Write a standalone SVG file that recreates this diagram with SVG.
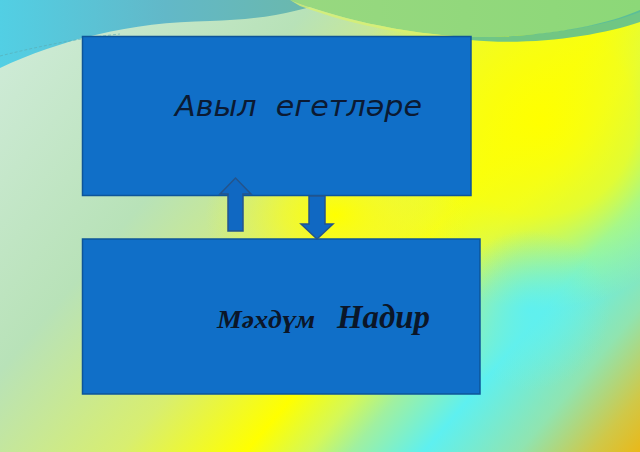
<svg xmlns="http://www.w3.org/2000/svg" width="640" height="452" viewBox="0 0 640 452">
<style>
.box{fill:#106fc8;stroke:#0d5599;stroke-width:1.5}
.arrow{fill:#1068c2;stroke:#24548c;stroke-width:1.5}
.t1{font-family:"DejaVu Sans",sans-serif;font-style:italic;font-size:27.5px;fill:#0b1a33;white-space:pre}
.t2{font-family:"Liberation Serif",serif;font-style:italic;font-weight:bold;fill:#0b1628;white-space:pre}
</style>
<defs>
<linearGradient id="bg" gradientUnits="userSpaceOnUse" x1="0" y1="0" x2="610" y2="517">
<stop offset="0" stop-color="#d2ecdc"/>
<stop offset="0.3" stop-color="#b8e2b8"/>
<stop offset="0.48" stop-color="#d8ee70"/>
<stop offset="0.6" stop-color="#ffff00"/>
<stop offset="0.66" stop-color="#d4f858"/>
<stop offset="0.7" stop-color="#a0f0a0"/>
<stop offset="0.77" stop-color="#5ef0f0"/>
<stop offset="0.86" stop-color="#90e4b0"/>
<stop offset="0.93" stop-color="#d0c848"/>
<stop offset="1" stop-color="#f7b000"/>
</linearGradient>
<radialGradient id="yel" gradientUnits="userSpaceOnUse" cx="540" cy="120" r="190">
<stop offset="0" stop-color="#ffff00" stop-opacity="1"/>
<stop offset="0.5" stop-color="#f8ff10" stop-opacity="0.8"/>
<stop offset="1" stop-color="#e0ff40" stop-opacity="0"/>
</radialGradient>
<radialGradient id="yel2" gradientUnits="userSpaceOnUse" cx="335" cy="215" r="130" gradientTransform="translate(335,215) scale(1,0.7) translate(-335,-215)">
<stop offset="0" stop-color="#ffff00" stop-opacity="1"/>
<stop offset="0.4" stop-color="#f8fc20" stop-opacity="0.7"/>
<stop offset="1" stop-color="#e8f850" stop-opacity="0"/>
</radialGradient>
<radialGradient id="cy" gradientUnits="userSpaceOnUse" cx="530" cy="310" r="80">
<stop offset="0" stop-color="#5ef0f0" stop-opacity="0.9"/>
<stop offset="1" stop-color="#6ef0e0" stop-opacity="0"/>
</radialGradient>
<linearGradient id="teal" x1="0" y1="0" x2="1" y2="0">
<stop offset="0" stop-color="#52cfe4"/>
<stop offset="0.5" stop-color="#62b8c8"/>
<stop offset="1" stop-color="#6cb8a8"/>
</linearGradient>
<linearGradient id="green" x1="0" y1="0" x2="1" y2="0">
<stop offset="0" stop-color="#98d880"/>
<stop offset="1" stop-color="#8cd878"/>
</linearGradient>
</defs>
<g id="background">
<rect x="0" y="0" width="640" height="452" fill="url(#bg)"/>
<rect x="0" y="0" width="640" height="452" fill="url(#yel)"/>
<rect x="0" y="0" width="640" height="452" fill="url(#yel2)"/>
<rect x="0" y="0" width="640" height="452" fill="url(#cy)"/>
<path d="M0,0 L330,0 C300,12 260,20 210,21 C130,22 60,40 0,68 Z" fill="url(#teal)"/>
<path d="M290,0 L640,0 L640,12 C600,28 530,38 470,37 C400,34 330,16 290,0 Z" fill="url(#green)"/>
<path d="M290,0 C330,16 400,34 470,37 C420,38 360,28 300,6 Z" fill="#d8f070" opacity="0.8"/>
<path d="M470,37 C530,38 600,28 640,10 L640,22 C600,36 530,46 470,40 Z" fill="#4fb8a0" opacity="0.8"/>
<path d="M0,56 C40,46 80,38 120,34" fill="none" stroke="#5aaab0" stroke-width="1" stroke-dasharray="3,2" opacity="0.6"/>
</g>
<g id="node-top">
<rect class="box" x="82.5" y="36.5" width="388.5" height="159"/>
<text class="t1" x="175" y="116" textLength="247" lengthAdjust="spacingAndGlyphs" xml:space="preserve">Авыл  егетләре</text>
</g>
<g id="node-bottom">
<rect class="box" x="82.5" y="239" width="397.5" height="155"/>
<text class="t2" y="328" xml:space="preserve"><tspan x="217" font-size="25" textLength="98" lengthAdjust="spacingAndGlyphs">Мәхдүм</tspan><tspan font-size="23">  </tspan><tspan x="337" font-size="33" textLength="93" lengthAdjust="spacingAndGlyphs">Надир</tspan></text>
</g>
<g id="connectors">
<path class="arrow" d="M228,231 L228,194 L220,194 L235.5,178 L251,194 L243,194 L243,231 Z"/>
<path class="arrow" d="M309,196 L309,224 L301,224 L317,239 L333,224 L325,224 L325,196 Z"/>
</g>
</svg>
